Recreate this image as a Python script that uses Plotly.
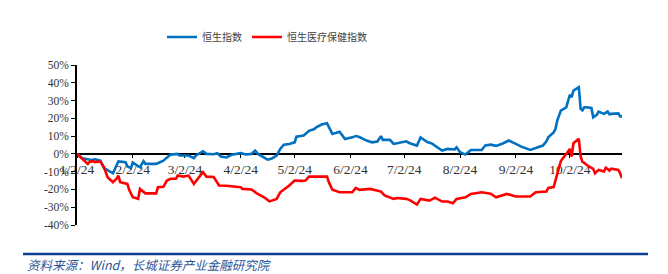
import plotly.graph_objects as go

# ---------------- data (percent change since 2024-01-02) ----------------
hsi_dates = [
    "2024-01-02", "2024-01-05", "2024-01-10", "2024-01-12", "2024-01-15", "2024-01-17",
    "2024-01-22", "2024-01-24", "2024-01-25", "2024-01-29", "2024-01-30", "2024-02-01",
    "2024-02-02", "2024-02-06", "2024-02-08", "2024-02-09", "2024-02-15", "2024-02-19",
    "2024-02-21", "2024-02-23", "2024-02-27", "2024-02-28", "2024-03-04", "2024-03-07",
    "2024-03-08", "2024-03-12", "2024-03-14", "2024-03-18", "2024-03-20", "2024-03-22",
    "2024-03-25", "2024-03-28", "2024-04-02", "2024-04-05", "2024-04-08", "2024-04-10",
    "2024-04-12", "2024-04-15", "2024-04-17", "2024-04-19", "2024-04-22", "2024-04-24",
    "2024-04-26", "2024-04-29", "2024-05-02", "2024-05-03", "2024-05-07", "2024-05-10",
    "2024-05-13", "2024-05-14", "2024-05-17", "2024-05-20", "2024-05-21", "2024-05-23",
    "2024-05-27", "2024-05-30", "2024-06-03", "2024-06-05", "2024-06-07", "2024-06-11",
    "2024-06-14", "2024-06-17", "2024-06-19", "2024-06-20", "2024-06-24", "2024-06-26",
    "2024-06-28", "2024-07-03", "2024-07-05", "2024-07-09", "2024-07-11", "2024-07-15",
    "2024-07-17", "2024-07-19", "2024-07-23", "2024-07-26", "2024-07-30", "2024-07-31",
    "2024-08-02", "2024-08-05", "2024-08-08", "2024-08-14", "2024-08-16", "2024-08-19",
    "2024-08-22", "2024-08-26", "2024-08-29", "2024-09-02", "2024-09-05", "2024-09-10",
    "2024-09-13", "2024-09-17", "2024-09-19", "2024-09-20", "2024-09-23", "2024-09-24",
    "2024-09-25", "2024-09-26", "2024-09-27", "2024-09-30", "2024-10-02", "2024-10-03",
    "2024-10-04", "2024-10-07", "2024-10-08", "2024-10-09", "2024-10-10", "2024-10-11",
    "2024-10-14", "2024-10-15", "2024-10-17", "2024-10-18", "2024-10-21", "2024-10-23",
    "2024-10-24", "2024-10-25", "2024-10-28", "2024-10-29", "2024-10-30", "2024-10-31",
]
hsi_values = [
    0.0, -2.5, -3.4, -3.0, -3.8, -8.0,
    -10.9, -6.5, -4.2, -4.7, -7.0, -8.0,
    -4.9, -7.5, -4.1, -5.6, -5.6, -3.8,
    -2.2, -0.4, 0.0, -0.9, -0.9, -2.4,
    -1.0, 1.5, 0.0, -0.2, 0.4, -1.5,
    -2.0, -0.5, 0.4, -0.3, 0.0, 1.9,
    -0.3, -2.0, -3.2, -2.8, -0.9, 2.8,
    5.2, 5.6, 6.5, 9.7, 10.3, 13.0,
    14.0, 15.0, 16.5, 17.2, 15.0, 11.2,
    12.4, 8.4, 9.3, 10.0, 9.5, 7.5,
    6.5, 7.0, 10.0, 7.9, 7.9, 5.6,
    6.0, 7.1, 6.0, 4.7, 9.3, 6.5,
    6.0, 4.7, 1.9, 2.8, 2.5, 3.7,
    0.9, -0.4, 2.2, 2.2, 4.7, 5.2,
    4.5, 6.0, 7.5, 5.6, 4.1, 2.2,
    3.4, 4.7, 7.1, 9.3, 12.1, 14.0,
    18.7, 21.5, 24.4, 26.2, 33.2, 31.9,
    35.6, 37.5, 25.3, 24.5, 26.2, 26.2,
    25.8, 20.6, 21.9, 23.8, 22.5, 23.8,
    22.3, 22.5, 22.6, 22.8, 21.1, 21.1,
]

hshc_dates = [
    "2024-01-02", "2024-01-04", "2024-01-08", "2024-01-09", "2024-01-11", "2024-01-12",
    "2024-01-15", "2024-01-17", "2024-01-19", "2024-01-22", "2024-01-24", "2024-01-25",
    "2024-01-26", "2024-01-30", "2024-01-31", "2024-02-02", "2024-02-05", "2024-02-06",
    "2024-02-08", "2024-02-09", "2024-02-15", "2024-02-16", "2024-02-19", "2024-02-21",
    "2024-02-23", "2024-02-26", "2024-02-27", "2024-03-01", "2024-03-04", "2024-03-07",
    "2024-03-08", "2024-03-12", "2024-03-14", "2024-03-18", "2024-03-21", "2024-03-25",
    "2024-04-02", "2024-04-03", "2024-04-08", "2024-04-11", "2024-04-15", "2024-04-18",
    "2024-04-22", "2024-04-24", "2024-04-29", "2024-05-02", "2024-05-06", "2024-05-08",
    "2024-05-10", "2024-05-14", "2024-05-17", "2024-05-20", "2024-05-21", "2024-05-23",
    "2024-05-27", "2024-05-31", "2024-06-03", "2024-06-05", "2024-06-07", "2024-06-13",
    "2024-06-19", "2024-06-21", "2024-06-26", "2024-06-28", "2024-07-03", "2024-07-05",
    "2024-07-09", "2024-07-11", "2024-07-16", "2024-07-19", "2024-07-23", "2024-07-26",
    "2024-07-29", "2024-07-31", "2024-08-05", "2024-08-08", "2024-08-14", "2024-08-19",
    "2024-08-22", "2024-08-28", "2024-09-02", "2024-09-10", "2024-09-13", "2024-09-19",
    "2024-09-20", "2024-09-23", "2024-09-24", "2024-09-26", "2024-09-27", "2024-09-30",
    "2024-10-02", "2024-10-03", "2024-10-04", "2024-10-07", "2024-10-08", "2024-10-09",
    "2024-10-10", "2024-10-11", "2024-10-14", "2024-10-15", "2024-10-16", "2024-10-17",
    "2024-10-18", "2024-10-21", "2024-10-22", "2024-10-23", "2024-10-24", "2024-10-25",
    "2024-10-28", "2024-10-29", "2024-10-30", "2024-10-31",
]
hshc_values = [
    0.0, -1.9, -5.6, -4.5, -4.1, -4.6,
    -4.3, -7.5, -13.1, -15.9, -14.0, -12.2,
    -15.9, -16.9, -20.2, -24.4, -25.3, -19.7,
    -21.6, -22.2, -22.2, -18.8, -18.5, -15.0,
    -14.0, -14.0, -12.2, -12.8, -12.2, -16.9,
    -15.5, -10.3, -12.8, -13.0, -17.8, -17.9,
    -18.8, -19.7, -20.0, -22.2, -24.4, -26.7,
    -25.3, -21.6, -17.8, -15.0, -15.2, -15.0,
    -12.8, -12.7, -12.8, -12.7, -15.9, -20.2,
    -21.6, -21.6, -21.6, -19.1, -20.2, -19.7,
    -21.2, -23.4, -25.3, -24.8, -25.3, -26.0,
    -28.5, -25.3, -26.3, -24.6, -26.8, -26.8,
    -27.8, -25.3, -24.4, -22.5, -21.6, -22.4,
    -24.4, -22.5, -24.0, -24.0, -21.6, -21.2,
    -19.1, -18.7, -15.0, -8.0, -4.0, 0.0,
    2.8, -1.5, 6.0, 8.5, -1.5, -4.5,
    -5.0, -6.0, -7.5, -8.4, -10.9, -10.0,
    -9.0, -9.9, -7.8, -8.5, -9.4, -8.3,
    -8.6, -9.0, -11.0, -13.5,
]

series_names = ["恒生指数", "恒生医疗保健指数"]
x_tick_dates = ["2024-01-02", "2024-02-02", "2024-03-02", "2024-04-02", "2024-05-02",
                "2024-06-02", "2024-07-02", "2024-08-02", "2024-09-02", "2024-10-02"]
x_tick_labels = ["1/2/24", "2/2/24", "3/2/24", "4/2/24", "5/2/24",
                 "6/2/24", "7/2/24", "8/2/24", "9/2/24", "10/2/24"]
y_tick_values = [50, 40, 30, 20, 10, 0, -10, -20, -30, -40]
y_tick_labels = ["50%", "40%", "30%", "20%", "10%", "0%", "-10%", "-20%", "-30%", "-40%"]
source_text = "资料来源：Wind，长城证券产业金融研究院"

# ---------------- layout geometry (pixels) ----------------
W, H = 668, 274
L, R, T, B = 77, 46, 65, 49
PW, PH = W - L - R, H - T - B


def px(xpix):
    return (xpix - L) / PW


def py(ypix):
    return (H - B - ypix) / PH


fig = go.Figure()
fig.add_trace(go.Scatter(x=hsi_dates, y=hsi_values, mode="lines", name=series_names[0],
                         line=dict(color="#0070C0", width=2.6)))
fig.add_trace(go.Scatter(x=hshc_dates, y=hshc_values, mode="lines", name=series_names[1],
                         line=dict(color="#FF0000", width=2.6)))

fig.update_layout(
    width=W, height=H,
    margin=dict(l=L, r=R, t=T, b=B, pad=0),
    paper_bgcolor="white", plot_bgcolor="white",
    showlegend=True,
    legend=dict(orientation="h", x=px(162), xanchor="left", y=py(37), yanchor="middle",
                font=dict(family="Noto Sans CJK SC", size=10, color="#404040"),
                bgcolor="rgba(0,0,0,0)", itemwidth=30, tracegroupgap=0),
    xaxis=dict(type="date", range=["2024-01-02", "2024-10-31"],
               tickmode="array", tickvals=x_tick_dates, ticktext=x_tick_labels,
               ticks="outside", ticklen=3, tickwidth=1, tickcolor="black",
               showline=True, linecolor="black", linewidth=1.5,
               showgrid=False, zeroline=False,
               anchor="free", position=40 / 90, layer="below traces",
               tickfont=dict(family="Liberation Serif", size=13.5, color="#333333")),
    yaxis=dict(range=[-40, 50], tickmode="array", tickvals=y_tick_values, ticktext=y_tick_labels,
               ticks="outside", ticklen=4, tickwidth=1, tickcolor="black",
               showline=True, linecolor="black", linewidth=1.5,
               showgrid=False, zeroline=False,
               tickfont=dict(family="Liberation Serif", size=11.5, color="#333333")),
    shapes=[dict(type="line", xref="paper", yref="paper",
                 x0=px(23), x1=px(648), y0=py(254), y1=py(254),
                 line=dict(color="#0B3D91", width=2.5))],
    annotations=[dict(text="<i>" + source_text + "</i>", xref="paper", yref="paper",
                      x=px(25), y=py(264), xanchor="left", yanchor="middle", showarrow=False,
                      font=dict(family="Noto Sans CJK SC", size=12.5, color="#2F5597"))],
)

fig.write_html("out.html")
